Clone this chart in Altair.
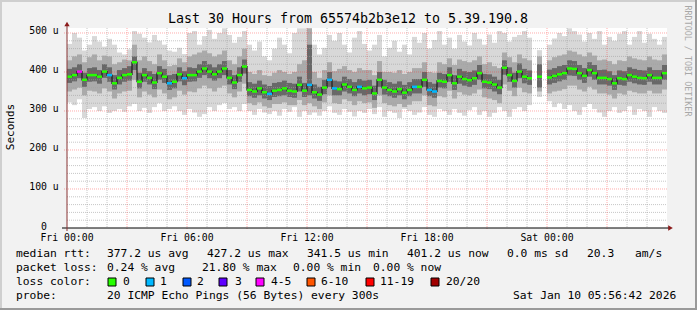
import altair as alt
import pandas as pd

# ---------------- data (15-minute slots, 30 h) ----------------
# median rtt in microseconds (None = no data)
med = [388, 392, 401, 380, 392, 392, 388, 401, 392, 371,
       385, 392, 394, 425, 375, 392, 385, 373, 397, 388,
       371, 375, 394, 384, 392, 392, 401, 409, 401, 394,
       401, 409, 385, 373, 392, 414, 354, 350, 358, 348,
       344, 352, 354, 358, 352, 350, 367, 352, 367, 348,
       342, 360, 380, 358, 356, 368, 362, 354, 362, 358,
       360, 345, 380, 360, 354, 350, 356, 347, 354, 362,
       362, 380, 354, 350, 377, 375, 392, 371, 388, 382,
       379, 384, 397, 375, 373, 368, 360, 411, 392, 377,
       401, 388, 384, None, 388, None, 386, 390, 394, 397,
       409, 408, 397, 390, 405, 397, 385, 385, 382, 371,
       384, 382, 392, 388, 385, 384, 392, 385, 385, 397]
# slowest ping of the slot
mx = [472, 500, 488, 455, 470, 492, 478, 465, 485, 470,
      450, 445, 458, 505, 498, 488, 476, 495, 480, 470,
      455, 452, 462, 446, 500, 505, 470, 492, 508, 485,
      500, 512, 495, 475, 490, 505, 470, 455, 478, 440,
      430, 460, 488, 470, 448, 500, 512, 512, 512, 470,
      445, 462, 495, 480, 500, 470, 450, 488, 505, 472,
      455, 470, 495, 440, 462, 480, 452, 470, 445, 490,
      475, 500, 460, 482, 505, 470, 488, 460, 495, 478,
      468, 500, 485, 470, 496, 475, 505, 500, 478, 490,
      495, 505, 488, None, 456, None, 470, 486, 500, 492,
      512, 505, 496, 478, 500, 485, 505, 470, 490, 480,
      498, 505, 470, 490, 505, 475, 498, 485, 470, 490]
# upper edge of the denser smoke
hi = [430, 440, 445, 425, 438, 445, 430, 442, 440, 420,
      425, 432, 430, 470, 430, 440, 428, 420, 445, 430,
      415, 418, 435, 425, 440, 445, 450, 455, 448, 440,
      445, 455, 430, 420, 440, 460, 400, 395, 405, 392,
      390, 398, 405, 400, 395, 400, 420, 430, 512, 400,
      385, 405, 425, 402, 408, 415, 405, 400, 410, 405,
      405, 392, 428, 400, 400, 398, 405, 395, 400, 410,
      410, 425, 400, 398, 425, 420, 435, 418, 432, 428,
      425, 430, 440, 420, 425, 415, 410, 450, 438, 425,
      445, 435, 430, None, 440, None, 430, 438, 442, 445,
      455, 452, 445, 440, 450, 442, 430, 432, 428, 420,
      430, 428, 440, 435, 432, 430, 440, 432, 430, 445]
# upper edge of the dark core
ihi = [408, 412, 420, 398, 410, 412, 405, 420, 412, 392,
       405, 410, 415, 440, 398, 410, 402, 395, 415, 408,
       392, 395, 412, 402, 412, 410, 420, 428, 420, 412,
       420, 428, 405, 392, 412, 432, 374, 370, 378, 368,
       364, 372, 374, 378, 372, 370, 388, 372, 470, 368,
       362, 380, 400, 378, 376, 388, 382, 374, 382, 378,
       380, 365, 400, 380, 374, 370, 376, 367, 374, 382,
       382, 400, 374, 370, 398, 395, 412, 392, 408, 402,
       400, 404, 418, 395, 394, 388, 380, 430, 412, 398,
       422, 408, 404, None, 420, None, 406, 410, 415, 418,
       430, 428, 418, 410, 425, 418, 405, 406, 402, 392,
       404, 402, 412, 408, 405, 404, 412, 405, 405, 418]
# lower edge of the dark core
ilo = [372, 376, 384, 362, 375, 376, 370, 385, 375, 355,
       368, 375, 378, 405, 358, 375, 368, 356, 380, 372,
       354, 358, 376, 366, 375, 376, 385, 392, 384, 378,
       384, 392, 368, 356, 375, 396, 338, 334, 340, 332,
       328, 336, 338, 340, 336, 334, 350, 336, 340, 332,
       326, 343, 362, 340, 340, 350, 345, 338, 345, 340,
       343, 328, 362, 342, 338, 334, 340, 330, 338, 345,
       345, 362, 338, 334, 360, 358, 375, 354, 370, 365,
       362, 367, 380, 358, 356, 350, 343, 393, 375, 360,
       384, 371, 367, None, 360, None, 368, 372, 376, 380,
       391, 390, 380, 372, 388, 380, 368, 368, 365, 354,
       367, 365, 375, 371, 368, 367, 375, 368, 368, 380]
# lower edge of the denser smoke
lo = [350, 355, 360, 340, 352, 350, 345, 358, 350, 332,
      345, 350, 352, 380, 335, 350, 342, 335, 355, 345,
      330, 335, 352, 342, 350, 348, 358, 365, 358, 350,
      360, 365, 345, 335, 350, 370, 320, 315, 322, 312,
      308, 318, 318, 322, 315, 315, 328, 315, 320, 312,
      305, 322, 340, 320, 318, 330, 325, 315, 325, 320,
      322, 308, 340, 320, 315, 312, 318, 310, 316, 325,
      325, 340, 315, 312, 338, 335, 352, 332, 348, 342,
      340, 345, 355, 335, 332, 328, 320, 368, 352, 338,
      360, 348, 345, None, 350, None, 345, 350, 352, 356,
      365, 365, 355, 350, 362, 355, 345, 345, 342, 332,
      345, 342, 352, 348, 345, 345, 352, 345, 345, 355]
# fastest ping of the slot
mn = [322, 315, 330, 282, 305, 310, 300, 312, 295, 300,
      305, 298, 312, 318, 300, 308, 295, 310, 320, 300,
      305, 312, 300, 290, 305, 296, 285, 292, 310, 300,
      315, 320, 305, 310, 300, 318, 300, 290, 305, 296,
      292, 300, 288, 305, 298, 310, 285, 300, 290, 296,
      288, 300, 312, 295, 290, 305, 298, 286, 300, 295,
      305, 292, 310, 285, 300, 295, 282, 305, 300, 290,
      296, 310, 290, 285, 305, 300, 290, 305, 295, 288,
      302, 310, 290, 300, 285, 295, 310, 300, 285, 305,
      310, 300, 315, None, 336, None, 325, 310, 320, 305,
      315, 300, 290, 310, 318, 305, 296, 285, 300, 310,
      295, 300, 312, 290, 305, 300, 285, 310, 300, 295]
# lost pings (of 20) per slot
loss = [0, 0, 4, 0, 0, 0, 0, 0, 1, 0,
        0, 0, 0, 0, 0, 0, 0, 0, 0, 0,
        1, 0, 0, 1, 0, 0, 0, 0, 0, 0,
        0, 0, 0, 0, 0, 0, 0, 0, 0, 0,
        1, 0, 0, 0, 0, 0, 0, 0, 1, 0,
        0, 0, 1, 1, 0, 0, 0, 0, 1, 0,
        0, 0, 0, 0, 0, 0, 0, 0, 0, 1,
        0, 0, 1, 1, 0, 0, 0, 0, 0, 0,
        0, 0, 0, 0, 0, 0, 0, 0, 0, 0,
        0, 0, 0, None, 0, None, 0, 0, 0, 0,
        0, 0, 0, 0, 0, 0, 0, 0, 0, 0,
        0, 0, 0, 0, 0, 0, 0, 0, 0, 0]

loss_names = ["0", "1", "2", "3", "4-5", "6-10", "11-19", "20/20"]
loss_colors = ["#26ff00", "#00b8ff", "#0059ff", "#5e00ff", "#ff00ff", "#ff5500", "#ff0000", "#a10000"]
x_tick_hours = [0, 6, 12, 18, 24]
x_labels = ["Fri 00:00", "Fri 06:00", "Fri 12:00", "Fri 18:00", "Sat 00:00"]
y_tick_values = [0, 100, 200, 300, 400, 500]
y_labels = ["0", "100 u", "200 u", "300 u", "400 u", "500 u"]

title = "Last 30 Hours from 65574b2b3e12 to 5.39.190.8"
stats1 = ["median rtt:", "377.2 us avg", "427.2 us max", "341.5 us min", "401.2 us now",
          "0.0 ms sd", "20.3", "am/s"]
stats2 = ["packet loss:", "0.24 % avg", "21.80 % max", "0.00 % min", "0.00 % now"]
probe = ["probe:", "20 ICMP Echo Pings (56 Bytes) every 300s", "Sat Jan 10 05:56:42 2026"]


def loss_bin(n):
    if n <= 3:
        return loss_names[n]
    if n <= 5:
        return "4-5"
    if n <= 10:
        return "6-10"
    if n <= 19:
        return "11-19"
    return "20/20"


SLOT = 0.25
rows = []
for k in range(len(med)):
    if med[k] is None:
        continue
    seg = 0 if k < 93 else (1 if k < 95 else 2)
    rows.append(dict(t=k * SLOT, te=(k + 1) * SLOT, tc=(k + 0.5) * SLOT, med=med[k],
                     mx=mx[k], hi=hi[k], ihi=ihi[k], ilo=ilo[k], lo=lo[k], mn=mn[k],
                     loss=loss_bin(loss[k]), seg=seg))
df = pd.DataFrame(rows)

hmin = pd.DataFrame({"v": [v for v in range(20, 520, 20) if v % 100]})
hmaj = pd.DataFrame({"v": [100, 200, 300, 400, 500]})
vmin = pd.DataFrame({"h": [h for h in range(1, 30) if h % 3]})
vmaj = pd.DataFrame({"h": list(range(3, 30, 3))})
xlab = pd.DataFrame({"h": x_tick_hours, "lab": x_labels})
ylab = pd.DataFrame({"v": y_tick_values, "lab": y_labels})

FONT = "DejaVu Sans Mono"
W, H = 600, 200
xs = alt.Scale(domain=[0, 30], nice=False, zero=False)
ys = alt.Scale(domain=[0, 512.8], nice=False)


def X(f):
    return alt.X(f, scale=xs, axis=None)


def Y(f):
    return alt.Y(f, scale=ys, axis=None)


base = alt.Chart(df)
outer = base.mark_rect(color="#d8d8d8").encode(x=X("t:Q"), x2="te", y=Y("mn:Q"), y2="mx")
mid = base.mark_rect(color="#aaaaaa").encode(x=X("t:Q"), x2="te", y=Y("lo:Q"), y2="hi")
inner = base.mark_rect(color="#686868").encode(x=X("t:Q"), x2="te", y=Y("ilo:Q"), y2="ihi")

grid_min_h = alt.Chart(hmin).mark_rule(color="#a0a0a0", opacity=0.6, strokeDash=[1, 1]).encode(
    y=Y("v:Q"), x=alt.value(0), x2=alt.value(W))
grid_maj_h = alt.Chart(hmaj).mark_rule(color="#ff3030", opacity=0.4, strokeDash=[1, 1]).encode(
    y=Y("v:Q"), x=alt.value(-3), x2=alt.value(W))
grid_min_v = alt.Chart(vmin).mark_rule(color="#a0a0a0", opacity=0.6, strokeDash=[1, 1]).encode(
    x=X("h:Q"), y=alt.value(0), y2=alt.value(H))
grid_maj_v = alt.Chart(vmaj).mark_rule(color="#ff3030", opacity=0.4, strokeDash=[1, 1]).encode(
    x=X("h:Q"), y=alt.value(0), y2=alt.value(H + 2))

core = base.mark_line(interpolate="step", strokeWidth=1.2, color="#1c1c1c").encode(
    x=X("tc:Q"), y=Y("med:Q"), detail="seg:N")
ticks = base.mark_rule(strokeWidth=2.5).encode(
    x=X("t:Q"), x2="te", y=Y("med:Q"),
    color=alt.Color("loss:N", scale=alt.Scale(domain=loss_names, range=loss_colors), legend=None))

xlabels = alt.Chart(xlab).mark_text(font=FONT, fontSize=9.8, align="center", baseline="middle",
                                    color="black").encode(x=X("h:Q"), y=alt.value(H + 10), text="lab:N")
ylabels = alt.Chart(ylab).mark_text(font=FONT, fontSize=9.8, align="center", baseline="middle",
                                    color="black", dy=-1.5).encode(y=Y("v:Q"), x=alt.value(-23), text="lab:N")

one = alt.Data(values=[{"a": 1}])


def rule(**enc):
    return alt.Chart(one).mark_rule(color=enc.pop("color"), strokeWidth=enc.pop("sw", 1)).encode(
        **{k: alt.value(v) for k, v in enc.items()})


def txt(s, x, y, size=11.3, color="black", angle=0, align="left"):
    return alt.Chart(one).mark_text(text=s, font=FONT, fontSize=size, align=align, baseline="middle",
                                    angle=angle, color=color).encode(x=alt.value(x), y=alt.value(y))


layers = [outer, mid, inner, grid_min_h, grid_min_v, grid_maj_h, grid_maj_v, core, ticks,
          xlabels, ylabels]

# axis lines and arrows
layers.append(rule(color="black", x=-5, x2=W + 3, y=H))
layers.append(rule(color="#883333", x=0, y=-3, y2=H + 3))
layers.append(alt.Chart(one).mark_point(shape="triangle-right", filled=True, size=28, color="#8b1a1a", opacity=1)
              .encode(x=alt.value(W + 3.5), y=alt.value(H)))
layers.append(alt.Chart(one).mark_point(shape="triangle-up", filled=True, size=28, color="#8b1a1a", opacity=1)
              .encode(x=alt.value(0), y=alt.value(-4)))

# frame
layers.append(rule(color="#cfcfcf", sw=2, x=-67, x2=630, y=-27))
layers.append(rule(color="#cfcfcf", sw=2, x=-66, y=-28, y2=282))
layers.append(rule(color="#9a9a9a", sw=2, x=629, y=-28, y2=282))
layers.append(rule(color="#9a9a9a", sw=2, x=-67, x2=630, y=281))

# titles
layers.append(txt(title, 281, -9, size=13.3, align="center"))
layers.append(txt("Seconds", -56, 99, size=11, angle=270, align="center"))
layers.append(txt("RRDTOOL / TOBI OETIKER", 621, 33, size=8.4, color="#a8a8a8", angle=90, align="center"))

# legend lines
for s, x in zip(stats1, [-51, 40, 140, 240, 340, 440, 520, 568]):
    layers.append(txt(s, x, 226))
for s, x in zip(stats2, [-51, 40, 135, 226, 306]):
    layers.append(txt(s, x, 240))
layers.append(txt("loss color:", -51, 254))
sq_x = [41, 79, 116, 152, 189, 240, 299, 364]
lab_x = [56, 93, 130, 168, 204, 254, 313, 379]
for name, col, sx, lx in zip(loss_names, loss_colors, sq_x, lab_x):
    layers.append(alt.Chart(one).mark_rect(fill=col, stroke="black", strokeWidth=1).encode(
        x=alt.value(sx), x2=alt.value(sx + 8), y=alt.value(250), y2=alt.value(258)))
    layers.append(txt(name, lx, 254))
for s, x in zip(probe, [-51, 40, 446]):
    layers.append(txt(s, x, 268))

chart = alt.layer(*layers).properties(
    width=W, height=H,
    padding={"left": 67, "top": 28, "right": 30, "bottom": 82},
    autosize=alt.AutoSizeParams(type="none"),
).configure(background="#f2f2f2").configure_view(fill="white", strokeWidth=0)

chart.save("out.html", embed_options={"renderer": "svg", "actions": False})
